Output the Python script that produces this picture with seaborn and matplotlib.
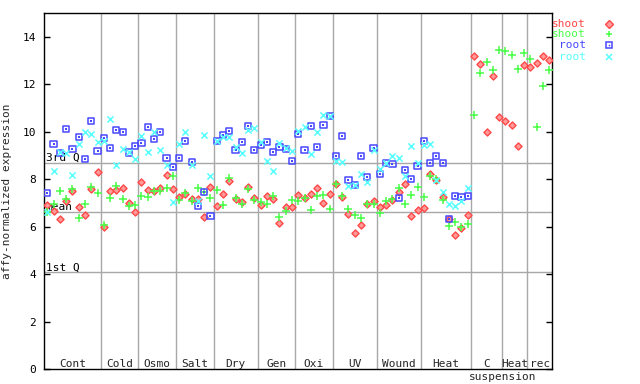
import numpy as np
import pandas as pd
import matplotlib
matplotlib.use("Agg")
import matplotlib.pyplot as plt
import seaborn as sns
from matplotlib.lines import Line2D

# ---------------- data ----------------
groups = ["Cont", "Cold", "Osmo", "Salt", "Dry", "Gen", "Oxi", "UV", "Wound",
          "Heat", "C", "Heat", "rec"]
group_sizes = [9, 6, 6, 6, 7, 6, 6, 7, 7, 8, 5, 4, 4]

shoot_red = [6.92, 6.66, 6.32, 7.08, 7.50, 6.82, 6.49, 7.58, 8.30,
             5.98, 7.50, 7.54, 7.63, 6.99, 6.61,
             7.88, 7.54, 7.50, 7.63, 8.18, 7.58,
             7.25, 7.37, 7.16, 7.16, 6.40, 7.67,
             6.87, 7.37, 7.92, 7.16, 7.04, 7.67, 7.21,
             6.90, 7.29, 7.16, 6.15, 6.83, 6.83,
             7.33, 7.21, 7.37, 7.63, 7.00, 7.37,
             7.79, 7.25, 6.53, 5.73, 6.07, 6.95, 7.08,
             6.83, 6.91, 7.12, 7.46, 7.79, 6.45, 6.70,
             6.78, 8.21, 7.96, 7.25, 6.32, 5.64, 5.94, 6.49,
             13.20, 12.85, 9.99, 12.36, 10.62,
             10.46, 10.28, 9.40, 12.83,
             12.74, 12.90, 13.20, 13.04]
shoot_green = [6.60, 6.96, 7.50, 7.18, 7.60, 6.36, 6.96, 7.67, 7.42,
               6.06, 7.22, 7.71, 7.16, 6.87, 6.91,
               7.29, 7.26, 7.50, 7.50, 7.63, 8.13,
               7.12, 7.42, 7.08, 7.63, 7.46, 7.21,
               7.54, 6.91, 8.06, 7.21, 6.95, 7.59, 7.12,
               7.04, 6.95, 7.29, 6.40, 6.65, 7.12,
               7.08, 7.21, 6.70, 7.29, 7.33, 6.74,
               7.79, 7.29, 6.74, 6.49, 6.36, 6.95, 6.95,
               6.57, 7.08, 7.16, 7.63, 6.95, 7.33, 7.67,
               7.25, 8.13, 8.00, 7.12, 6.02, 6.19, 5.98, 6.10,
               10.70, 12.48, 12.94, 12.60, 13.46,
               13.42, 13.23, 12.65, 13.32,
               13.07, 10.20, 11.94, 12.60]
root_blue = [7.42, 9.48, 9.10, 10.12, 9.27, 9.78, 8.85, 10.45, 9.19,
             9.74, 9.31, 10.07, 9.99, 9.13, 9.40,
             9.53, 10.21, 9.70, 9.99, 8.89, 8.51,
             8.89, 9.61, 8.73, 6.87, 7.46, 6.44,
             9.61, 9.86, 10.03, 9.23, 9.57, 10.26, 9.23,
             9.44, 9.57, 9.15, 9.36, 9.29, 8.77,
             9.90, 9.23, 10.24, 9.36, 10.29, 10.68,
             8.98, 9.82, 7.96, 7.75, 8.98, 8.09, 9.31,
             8.21, 8.68, 8.64, 7.21, 8.38, 8.00, 8.55,
             9.61, 8.68, 8.98, 8.68, 6.32, 7.29, 7.25, 7.29]
root_cyan = [6.63, 8.34, 9.17, 9.10, 8.20, 9.48, 9.99, 9.91, 9.57,
             9.61, 10.54, 8.60, 9.27, 9.13, 8.85,
             9.84, 9.15, 9.99, 9.23, 8.60, 7.04,
             9.48, 9.99, 8.60, 7.10, 9.88, 8.13,
             9.61, 9.80, 9.78, 9.36, 9.09, 10.09, 10.16,
             9.57, 8.77, 8.34, 9.52, 9.31, 9.19,
             10.03, 10.20, 9.06, 9.99, 10.71, 10.68,
             8.77, 8.72, 7.71, 7.75, 8.21, 7.88, 9.23,
             8.43, 8.68, 8.98, 8.89, 8.13, 9.40, 8.68,
             9.44, 9.48, 7.96, 7.45, 6.95, 6.87, 7.08, 7.63]

hlines = {"3rd Q": 8.68, "mean": 6.61, "1st Q": 4.08}
yticks = [0, 2, 4, 6, 8, 10, 12, 14]

# ---------------- frame ----------------
n = len(shoot_red)
pos = np.arange(n)
df_shoot = pd.DataFrame({"pos": pos, "red": shoot_red, "green": shoot_green})
df_root = pd.DataFrame({"pos": pos[:len(root_blue)], "blue": root_blue, "cyan": root_cyan})

RED, GREEN, BLUE, CYAN = "#ff4848", "#48ff48", "#4848ff", "#58ffff"
GRAY = "#a8a8a8"

sns.set_style("white")
plt.rcParams["font.family"] = ["DejaVu Sans Mono", "DejaVu Sans"]
plt.rcParams["font.size"] = 8

fig = plt.figure(figsize=(6.4, 3.84), dpi=100)
W, H = 640.0, 384.0
L, R, T, B = 44.3, 552.3, 13.3, 369.0
ax = fig.add_axes([L / W, 1 - B / H, (R - L) / W, (B - T) / H])

# reference lines
bounds = np.cumsum(group_sizes)[:-1] - 0.5
for b in bounds:
    ax.axvline(b, color=GRAY, lw=1, zorder=1)
for lab, v in hlines.items():
    ax.axhline(v, color=GRAY, lw=1, zorder=1)
    ax.text(0.003, v, lab, transform=ax.get_yaxis_transform(), ha="left",
            va="bottom", fontsize=8, color="black", zorder=3)

# points
sns.scatterplot(data=df_shoot, x="pos", y="red", marker="D", s=13,
                color="#ff9a9a", edgecolor=RED, linewidth=1, ax=ax, zorder=4,
                legend=False)
sns.scatterplot(data=df_shoot, x="pos", y="green", marker="+", s=30,
                color=GREEN, linewidth=1.1, ax=ax, zorder=4, legend=False)
sns.scatterplot(data=df_root, x="pos", y="blue", marker="s", s=20,
                color=BLUE, edgecolor=BLUE, linewidth=1.1, ax=ax, zorder=4,
                legend=False)
ax.collections[-1].set_facecolor("none")
sns.scatterplot(data=df_root, x="pos", y="blue", marker="s", s=1.2,
                color=BLUE, linewidth=0, ax=ax, zorder=4, legend=False)
sns.scatterplot(data=df_root, x="pos", y="cyan", marker="x", s=20,
                color=CYAN, linewidth=1.1, ax=ax, zorder=4, legend=False)

ax.set_xlim(-0.48, n - 0.52)
ax.set_ylim(0, 15)
ax.set_xticks([])
ax.set_yticks(yticks)
ax.set_yticklabels([str(t) for t in yticks])
ax.tick_params(axis="y", direction="in", length=4.3, width=1, left=True,
               right=True, labelsize=8, pad=6, colors="black")
ax.set_xlabel("")
ax.set_ylabel("affy-normalized expression", fontsize=8)
ax.yaxis.set_label_coords((12 - L) / (R - L), 0.5)
for sp in ax.spines.values():
    sp.set_color("black")
    sp.set_linewidth(1)

# group labels
starts = np.concatenate([[0], np.cumsum(group_sizes)[:-1]])
for g, st, sz in zip(groups, starts, group_sizes):
    cx = st + (sz - 1) / 2.0
    ax.text(cx, 0.22, g, ha="center", va="center", fontsize=8, zorder=3)
c_idx = groups.index("C")
ax.text(starts[c_idx] + (group_sizes[c_idx] - 1) / 2.0 + 2.5, -0.33,
        "suspension", ha="center", va="center", fontsize=8, clip_on=False)

# legend (manual, label left of marker)
leg_items = [("shoot", RED, "D"), ("shoot", GREEN, "+"),
             ("root", BLUE, "s"), ("root", CYAN, "x")]
ys = [24, 34.3, 45.3, 56.7]
for (lab, col, mk), yy in zip(leg_items, ys):
    fig.text(586 / W, 1 - yy / H, lab, color=col, ha="right", va="center",
             fontsize=8)
    if mk == "D":
        kw = dict(markerfacecolor="#ff9a9a", markeredgecolor=col, markersize=3.6,
                  markeredgewidth=1)
    elif mk == "s":
        kw = dict(markerfacecolor="none", markeredgecolor=col, markersize=4.5,
                  markeredgewidth=1.1)
    else:
        kw = dict(color=col, markersize=5, markeredgewidth=1.1)
    fig.add_artist(Line2D([609 / W], [1 - yy / H], marker=mk, linestyle="none",
                          transform=fig.transFigure, **kw))
    if mk == "s":
        fig.add_artist(Line2D([609 / W], [1 - yy / H], marker="s", linestyle="none",
                              markersize=1.1, color=col, markeredgewidth=0,
                              transform=fig.transFigure))

fig.savefig("out.png", dpi=100)
